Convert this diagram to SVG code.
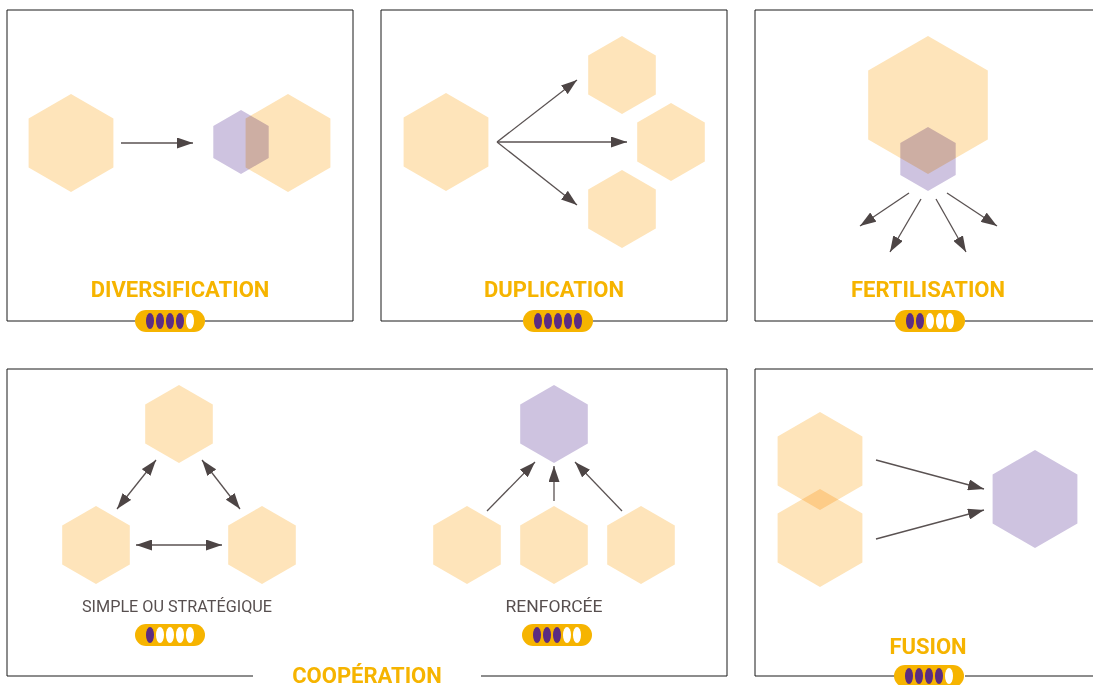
<svg xmlns="http://www.w3.org/2000/svg" xmlns:xlink="http://www.w3.org/1999/xlink" width="1093" height="685" viewBox="0 0 1093 685">
  <style>
    .frame { fill: none; stroke: #1a1a1a; stroke-width: 1; }
    .hex-o { fill: #FEE4BA; mix-blend-mode: multiply; }
    .hex-p { fill: #CEC3E0; mix-blend-mode: multiply; }
    .link { fill: none; stroke: #5a5252; stroke-width: 1.3; }
    .title { font-family: Roboto, "Liberation Sans", Arial, sans-serif; font-weight: bold; font-size: 22px; fill: #F6B400; text-anchor: middle; }
    .sub { font-family: Roboto, "Liberation Sans", Arial, sans-serif; font-size: 16px; fill: #574f4f; text-anchor: middle; }
    .pill { fill: #F6B400; }
    .on { fill: #5B2D82; }
    .off { fill: #ffffff; }
  </style>
  <defs>
    <polygon id="h32" points="0,-32 27.7,-16 27.7,16 0,32 -27.7,16 -27.7,-16"/>
    <polygon id="h39" points="0,-39 33.8,-19.5 33.8,19.5 0,39 -33.8,19.5 -33.8,-19.5"/>
    <polygon id="h49" points="0,-49 42.4,-24.5 42.4,24.5 0,49 -42.4,24.5 -42.4,-24.5"/>
    <polygon id="h69" points="0,-69 59.8,-34.5 59.8,34.5 0,69 -59.8,34.5 -59.8,-34.5"/>
    <marker id="arrow" markerUnits="userSpaceOnUse" markerWidth="16" markerHeight="11" refX="16" refY="5.5" orient="auto-start-reverse" viewBox="0 0 16 11">
      <path d="M0,0 L16,5.5 L0,11 z" fill="#4d4545"/>
    </marker>
    <!-- capsule rating gauge, centred on 0,0 -->
    <rect id="pill" x="-35" y="-11" width="70" height="22" rx="11" class="pill"/>
  </defs>

  <rect width="1093" height="685" fill="#ffffff"/>

  <!-- panel frames (bottom edges are broken by the gauges / labels) -->
  <g id="frames">
    <path class="frame" d="M135,321 H7 V10 H353 V321 H205"/>
    <path class="frame" d="M523,321 H381 V10 H727 V321 H593"/>
    <path class="frame" d="M895,321 H755 V10 H1094 M1094,321 H965"/>
    <path class="frame" d="M253,676 H7 V369 H727 V676 H481"/>
    <path class="frame" d="M895,676 H755 V369 H1094 M1094,676 H965"/>
  </g>

  <!-- DIVERSIFICATION -->
  <g id="diversification">
    <use xlink:href="#h49" class="hex-o" x="71" y="143"/>
    <use xlink:href="#h32" class="hex-p" x="241" y="142"/>
    <use xlink:href="#h49" class="hex-o" x="288" y="143"/>
    <text class="title" x="180" y="297">DIVERSIFICATION</text>
    <g transform="translate(170,321)">
      <use xlink:href="#pill"/>
      <ellipse class="on" cx="-20" cy="0" rx="4" ry="8"/>
      <ellipse class="on" cx="-10" cy="0" rx="4" ry="8"/>
      <ellipse class="on" cx="0" cy="0" rx="4" ry="8"/>
      <ellipse class="on" cx="10" cy="0" rx="4" ry="8"/>
      <ellipse class="off" cx="20" cy="0" rx="4" ry="8"/>
    </g>
  </g>

  <!-- DUPLICATION -->
  <g id="duplication">
    <use xlink:href="#h49" class="hex-o" x="446" y="142"/>
    <use xlink:href="#h39" class="hex-o" x="622" y="75"/>
    <use xlink:href="#h39" class="hex-o" x="671" y="142"/>
    <use xlink:href="#h39" class="hex-o" x="622" y="209"/>
    <text class="title" x="554" y="297">DUPLICATION</text>
    <g transform="translate(558,321)">
      <use xlink:href="#pill"/>
      <ellipse class="on" cx="-20" cy="0" rx="4" ry="8"/>
      <ellipse class="on" cx="-10" cy="0" rx="4" ry="8"/>
      <ellipse class="on" cx="0" cy="0" rx="4" ry="8"/>
      <ellipse class="on" cx="10" cy="0" rx="4" ry="8"/>
      <ellipse class="on" cx="20" cy="0" rx="4" ry="8"/>
    </g>
  </g>

  <!-- FERTILISATION -->
  <g id="fertilisation">
    <use xlink:href="#h69" class="hex-o" x="928" y="105"/>
    <use xlink:href="#h32" class="hex-p" x="928" y="159"/>
    <text class="title" x="928" y="297">FERTILISATION</text>
    <g transform="translate(930,321)">
      <use xlink:href="#pill"/>
      <ellipse class="on" cx="-20" cy="0" rx="4" ry="8"/>
      <ellipse class="on" cx="-10" cy="0" rx="4" ry="8"/>
      <ellipse class="off" cx="0" cy="0" rx="4" ry="8"/>
      <ellipse class="off" cx="10" cy="0" rx="4" ry="8"/>
      <ellipse class="off" cx="20" cy="0" rx="4" ry="8"/>
    </g>
  </g>

  <!-- COOPÉRATION : simple ou stratégique -->
  <g id="cooperation-simple">
    <use xlink:href="#h39" class="hex-o" x="179" y="424"/>
    <use xlink:href="#h39" class="hex-o" x="96" y="545"/>
    <use xlink:href="#h39" class="hex-o" x="262" y="545"/>
    <text class="sub" x="177" y="612" textLength="190" lengthAdjust="spacingAndGlyphs">SIMPLE OU STRATÉGIQUE</text>
    <g transform="translate(170,635)">
      <use xlink:href="#pill"/>
      <ellipse class="on" cx="-20" cy="0" rx="4" ry="8"/>
      <ellipse class="off" cx="-10" cy="0" rx="4" ry="8"/>
      <ellipse class="off" cx="0" cy="0" rx="4" ry="8"/>
      <ellipse class="off" cx="10" cy="0" rx="4" ry="8"/>
      <ellipse class="off" cx="20" cy="0" rx="4" ry="8"/>
    </g>
  </g>

  <!-- COOPÉRATION : renforcée -->
  <g id="cooperation-renforcee">
    <use xlink:href="#h39" class="hex-p" x="554" y="424"/>
    <use xlink:href="#h39" class="hex-o" x="467" y="545"/>
    <use xlink:href="#h39" class="hex-o" x="554" y="545"/>
    <use xlink:href="#h39" class="hex-o" x="641" y="545"/>
    <text class="sub" x="554" y="612" textLength="97" lengthAdjust="spacingAndGlyphs">RENFORCÉE</text>
    <g transform="translate(557,635)">
      <use xlink:href="#pill"/>
      <ellipse class="on" cx="-20" cy="0" rx="4" ry="8"/>
      <ellipse class="on" cx="-10" cy="0" rx="4" ry="8"/>
      <ellipse class="on" cx="0" cy="0" rx="4" ry="8"/>
      <ellipse class="off" cx="10" cy="0" rx="4" ry="8"/>
      <ellipse class="off" cx="20" cy="0" rx="4" ry="8"/>
    </g>
  </g>

  <g id="cooperation-label">
    <text class="title" x="367" y="683">COOPÉRATION</text>
  </g>

  <!-- FUSION -->
  <g id="fusion">
    <use xlink:href="#h49" class="hex-o" x="820" y="461"/>
    <use xlink:href="#h49" class="hex-o" x="820" y="538"/>
    <use xlink:href="#h49" class="hex-p" x="1035" y="499"/>
    <text class="title" x="928" y="654">FUSION</text>
    <g transform="translate(929,676)">
      <use xlink:href="#pill"/>
      <ellipse class="on" cx="-20" cy="0" rx="4" ry="8"/>
      <ellipse class="on" cx="-10" cy="0" rx="4" ry="8"/>
      <ellipse class="on" cx="0" cy="0" rx="4" ry="8"/>
      <ellipse class="on" cx="10" cy="0" rx="4" ry="8"/>
      <ellipse class="off" cx="20" cy="0" rx="4" ry="8"/>
    </g>
  </g>

  <!-- connectors -->
  <g id="connectors">
    <line class="link" x1="121" y1="143" x2="193" y2="143" marker-end="url(#arrow)"/>

    <line class="link" x1="497" y1="142" x2="577" y2="80" marker-end="url(#arrow)"/>
    <line class="link" x1="497" y1="142" x2="627" y2="142" marker-end="url(#arrow)"/>
    <line class="link" x1="497" y1="142" x2="577" y2="205" marker-end="url(#arrow)"/>

    <line class="link" x1="909" y1="193" x2="860" y2="226" marker-end="url(#arrow)"/>
    <line class="link" x1="921" y1="199" x2="890" y2="252" marker-end="url(#arrow)"/>
    <line class="link" x1="936" y1="199" x2="966" y2="252" marker-end="url(#arrow)"/>
    <line class="link" x1="947" y1="193" x2="997" y2="226" marker-end="url(#arrow)"/>

    <line class="link" x1="117" y1="509" x2="156" y2="460" marker-start="url(#arrow)" marker-end="url(#arrow)"/>
    <line class="link" x1="202" y1="460" x2="240" y2="509" marker-start="url(#arrow)" marker-end="url(#arrow)"/>
    <line class="link" x1="136" y1="545" x2="222" y2="545" marker-start="url(#arrow)" marker-end="url(#arrow)"/>

    <line class="link" x1="487" y1="511" x2="535" y2="462" marker-end="url(#arrow)"/>
    <line class="link" x1="554" y1="501" x2="554" y2="466" marker-end="url(#arrow)"/>
    <line class="link" x1="622" y1="511" x2="575" y2="462" marker-end="url(#arrow)"/>

    <line class="link" x1="876" y1="460" x2="984" y2="489" marker-end="url(#arrow)"/>
    <line class="link" x1="876" y1="539" x2="984" y2="510" marker-end="url(#arrow)"/>
  </g>
</svg>
